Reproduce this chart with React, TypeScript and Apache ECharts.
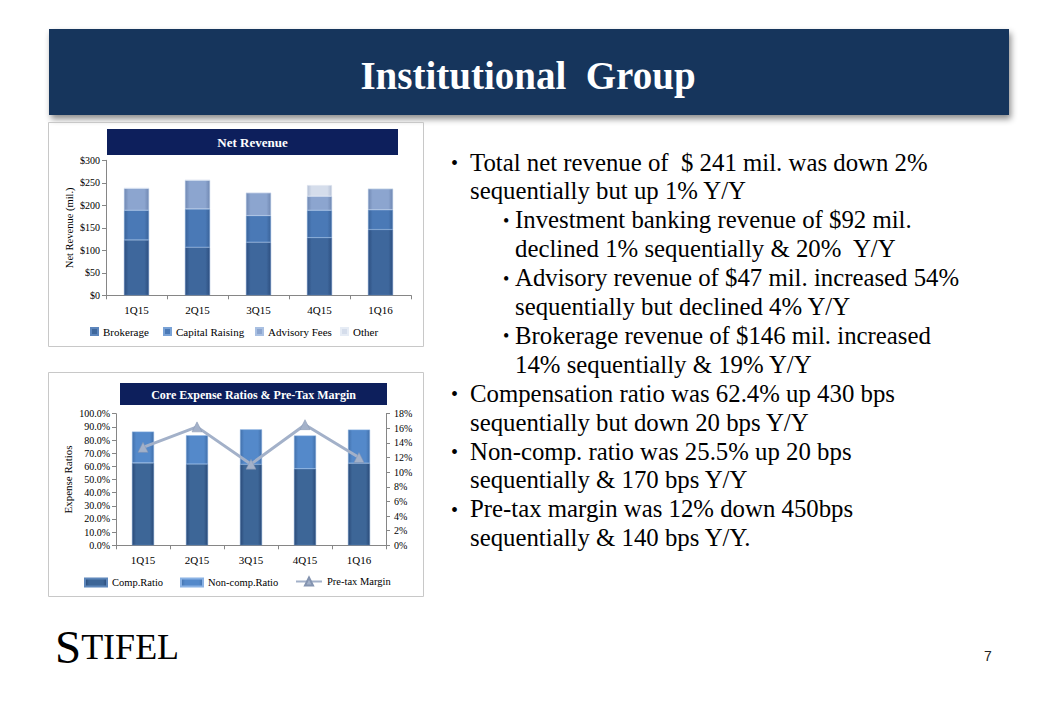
import React, { useEffect, useRef } from 'react';
import * as echarts from 'echarts';

const categories = ['1Q15', '2Q15', '3Q15', '4Q15', '1Q16'];
const brokerage = [123, 107, 118, 128, 146];
const capitalRaising = [66, 85, 59, 61, 44];
const advisoryFees = [49, 64, 51, 31, 47];
const other = [0, 0, 0, 25, 0];

const compRatio = [62.6, 61.7, 61.5, 58.1, 62.4];
const nonCompRatio = [23.8, 21.9, 26.6, 25.3, 25.5];
const preTaxMargin = [13.4, 16.2, 11.1, 16.5, 12.0];

const revenueTicks = [0, 50, 100, 150, 200, 250, 300];

const bulletLines: { level: number; bullet: boolean; text: string }[] = [
  { level: 1, bullet: true, text: 'Total net revenue of  $ 241 mil. was down 2%' },
  { level: 1, bullet: false, text: 'sequentially but up 1% Y/Y' },
  { level: 2, bullet: true, text: 'Investment banking revenue of $92 mil.' },
  { level: 2, bullet: false, text: 'declined 1% sequentially & 20%  Y/Y' },
  { level: 2, bullet: true, text: 'Advisory revenue of $47 mil. increased 54%' },
  { level: 2, bullet: false, text: 'sequentially but declined 4% Y/Y' },
  { level: 2, bullet: true, text: 'Brokerage revenue of $146 mil. increased' },
  { level: 2, bullet: false, text: '14% sequentially & 19% Y/Y' },
  { level: 1, bullet: true, text: 'Compensation ratio was 62.4% up 430 bps' },
  { level: 1, bullet: false, text: 'sequentially but down 20 bps Y/Y' },
  { level: 1, bullet: true, text: 'Non-comp. ratio was 25.5% up 20 bps' },
  { level: 1, bullet: false, text: 'sequentially & 170 bps Y/Y' },
  { level: 1, bullet: true, text: 'Pre-tax margin was 12% down 450bps' },
  { level: 1, bullet: false, text: 'sequentially & 140 bps Y/Y.' },
];

const SERIF = 'Liberation Serif';

function bevel(edge: string, mid: string) {
  return new echarts.graphic.LinearGradient(0, 0, 1, 0, [
    { offset: 0, color: edge },
    { offset: 0.18, color: mid },
    { offset: 0.82, color: mid },
    { offset: 1, color: edge },
  ]);
}

function txt(x: number, y: number, text: string, size: number, opts: any = {}) {
  return {
    type: 'text',
    x,
    y,
    z: opts.z ?? 3,
    style: {
      text,
      fill: opts.fill ?? '#000',
      fontFamily: opts.family ?? SERIF,
      fontSize: size,
      fontWeight: opts.weight ?? 'normal',
      align: opts.align ?? 'left',
      verticalAlign: opts.valign ?? 'middle',
    },
  };
}

export default function App() {
  const ref = useRef<HTMLDivElement>(null);
  useEffect(() => {
    if (!ref.current) return;
    const chart = echarts.init(ref.current, undefined, { renderer: 'svg' });

    const graphics: any[] = [];
    // banner
    graphics.push({
      type: 'rect',
      shape: { x: 49, y: 29, width: 960, height: 86 },
      style: { fill: '#13355C', shadowColor: 'rgba(0,0,0,0.45)', shadowBlur: 6, shadowOffsetX: 2, shadowOffsetY: 4 },
      z: 0,
    });
    graphics.push(txt(528, 75, 'Institutional  Group', 39, { fill: '#ffffff', weight: 'bold', align: 'center' }));
    // chart boxes
    graphics.push({
      type: 'rect',
      shape: { x: 48.5, y: 122.5, width: 375, height: 224 },
      style: { fill: 'none', stroke: '#C8C8C8', lineWidth: 1 },
      z: 0,
    });
    graphics.push({
      type: 'rect',
      shape: { x: 48.5, y: 372.5, width: 375, height: 224 },
      style: { fill: 'none', stroke: '#C8C8C8', lineWidth: 1 },
      z: 0,
    });
    // chart title bars
    graphics.push({ type: 'rect', shape: { x: 107, y: 129, width: 291, height: 26 }, style: { fill: '#0D1F5C' }, z: 1 });
    graphics.push(txt(252.5, 142.5, 'Net Revenue', 13, { fill: '#fff', weight: 'bold', align: 'center' }));
    graphics.push({ type: 'rect', shape: { x: 120, y: 383, width: 267, height: 22 }, style: { fill: '#0D1F5C' }, z: 1 });
    graphics.push(txt(253.5, 394.5, 'Core Expense Ratios & Pre-Tax Margin', 12, { fill: '#fff', weight: 'bold', align: 'center' }));
    // bullet text
    bulletLines.forEach((ln, i) => {
      const y = 162 + i * 28.9;
      const textX = ln.level === 1 ? 470 : 515;
      const bulletX = ln.level === 1 ? 451 : 503;
      if (ln.bullet) {
        graphics.push(txt(bulletX, y + 1, '•', ln.level === 1 ? 20 : 18));
      }
      graphics.push(txt(textX, y, ln.text, 24.8));
    });
    // logo
    graphics.push({
      type: 'text',
      x: 55,
      y: 670,
      z: 3,
      style: {
        text: '{a|S}{b|TIFEL}',
        verticalAlign: 'bottom',
        align: 'left',
        rich: {
          a: { fontFamily: SERIF, fontSize: 47, color: '#1B3966' },
          b: { fontFamily: SERIF, fontSize: 36, color: '#1B3966' },
        },
      },
    });
    // page number
    graphics.push(txt(988, 656, '7', 14, { fill: '#222', family: 'Liberation Sans', align: 'center' }));

    const axisLabel = { color: '#000', fontFamily: SERIF, fontSize: 10 };
    const axisLine = { show: true, lineStyle: { color: '#868686' } };
    const axisTick = { show: true, length: 4, lineStyle: { color: '#868686' } };

    const mkLegend = (name: string, left: number, top: number, w: number, h: number, fs: number, icon?: string) => ({
      data: [name],
      left,
      top,
      itemWidth: w,
      itemHeight: h,
      icon,
      itemGap: 0,
      padding: 0,
      textStyle: { color: '#000', fontFamily: SERIF, fontSize: fs },
    });

    chart.setOption({
      animation: false,
      backgroundColor: '#ffffff',
      graphic: { elements: graphics },
      grid: [
        { left: 106, right: 1056 - 411, top: 160.3, bottom: 704 - 295.3, containLabel: false },
        { left: 116, right: 1056 - 386, top: 413.7, bottom: 704 - 545.3, containLabel: false },
      ],
      legend: [
        mkLegend('Brokerage', 90, 326, 7, 7, 11, 'rect'),
        mkLegend('Capital Raising', 163, 326, 7, 7, 11, 'rect'),
        mkLegend('Advisory Fees', 255, 326, 7, 7, 11, 'rect'),
        mkLegend('Other', 340, 326, 7, 7, 11, 'rect'),
        mkLegend('Comp.Ratio', 84, 577, 22, 8, 10.5, 'rect'),
        mkLegend('Non-comp.Ratio', 180, 577, 22, 8, 10.5, 'rect'),
        mkLegend('Pre-tax Margin', 295, 576, 26, 10, 10.5),
      ],
      xAxis: [
        { type: 'category', gridIndex: 0, data: categories, axisLine, axisTick, axisLabel: { ...axisLabel, fontSize: 11, margin: 9 } },
        { type: 'category', gridIndex: 1, data: categories, axisLine, axisTick, axisLabel: { ...axisLabel, fontSize: 11, margin: 9 } },
      ],
      yAxis: [
        {
          type: 'value',
          gridIndex: 0,
          min: revenueTicks[0],
          max: revenueTicks[revenueTicks.length - 1],
          interval: 50,
          axisLine,
          axisTick,
          splitLine: { show: false },
          axisLabel: { ...axisLabel, margin: 6, formatter: (v: number) => `$${v}` },
          name: 'Net Revenue (mil.)',
          nameLocation: 'middle',
          nameRotate: 90,
          nameGap: 31,
          nameTextStyle: { color: '#000', fontFamily: SERIF, fontSize: 10.5 },
        },
        {
          type: 'value',
          gridIndex: 1,
          min: 0,
          max: 100,
          interval: 10,
          axisLine,
          axisTick,
          splitLine: { show: false },
          axisLabel: { ...axisLabel, margin: 6, formatter: (v: number) => `${v.toFixed(1)}%` },
          name: 'Expense Ratios',
          nameLocation: 'middle',
          nameRotate: 90,
          nameGap: 43,
          nameTextStyle: { color: '#000', fontFamily: SERIF, fontSize: 11 },
        },
        {
          type: 'value',
          gridIndex: 1,
          position: 'right',
          min: 0,
          max: 18,
          interval: 2,
          axisLine,
          axisTick,
          splitLine: { show: false },
          axisLabel: { ...axisLabel, margin: 8, formatter: (v: number) => `${v}%` },
        },
      ],
      series: [
        {
          name: 'Brokerage', type: 'bar', stack: 'rev', xAxisIndex: 0, yAxisIndex: 0, barWidth: 25, data: brokerage,
          itemStyle: { color: bevel('#2D4F80', '#3E679C'), borderColor: '#5C85BC', borderWidth: 0.5 },
        },
        {
          name: 'Capital Raising', type: 'bar', stack: 'rev', xAxisIndex: 0, yAxisIndex: 0, barWidth: 25, data: capitalRaising,
          itemStyle: { color: bevel('#3A639A', '#4A79B6'), borderColor: '#79A2D6', borderWidth: 0.5 },
        },
        {
          name: 'Advisory Fees', type: 'bar', stack: 'rev', xAxisIndex: 0, yAxisIndex: 0, barWidth: 25, data: advisoryFees,
          itemStyle: { color: bevel('#7189B3', '#8CA5CF'), borderColor: '#A9C0E2', borderWidth: 0.5 },
        },
        {
          name: 'Other', type: 'bar', stack: 'rev', xAxisIndex: 0, yAxisIndex: 0, barWidth: 25, data: other,
          itemStyle: { color: bevel('#B4C0D6', '#D5DDEB'), borderColor: '#E6ECF5', borderWidth: 0.5 },
        },
        {
          name: 'Comp.Ratio', type: 'bar', stack: 'exp', xAxisIndex: 1, yAxisIndex: 1, barWidth: 22, data: compRatio,
          itemStyle: { color: bevel('#2A4A78', '#3D6697'), borderColor: '#5D86BA', borderWidth: 0.5 },
        },
        {
          name: 'Non-comp.Ratio', type: 'bar', stack: 'exp', xAxisIndex: 1, yAxisIndex: 1, barWidth: 22, data: nonCompRatio,
          itemStyle: { color: bevel('#4270AA', '#5489CA'), borderColor: '#8AB2E4', borderWidth: 0.5 },
        },
        {
          name: 'Pre-tax Margin', type: 'line', xAxisIndex: 1, yAxisIndex: 2, data: preTaxMargin,
          symbol: 'triangle', symbolSize: 10,
          lineStyle: { color: '#A3B1C9', width: 3 },
          itemStyle: { color: '#A3B1C9', borderColor: '#8494B0', borderWidth: 0.5 },
          z: 5,
        },
      ],
    });
    return () => chart.dispose();
  }, []);
  return <div ref={ref} style={{ position: 'absolute', left: 0, top: 0, width: 1056, height: 704 }} />;
}
